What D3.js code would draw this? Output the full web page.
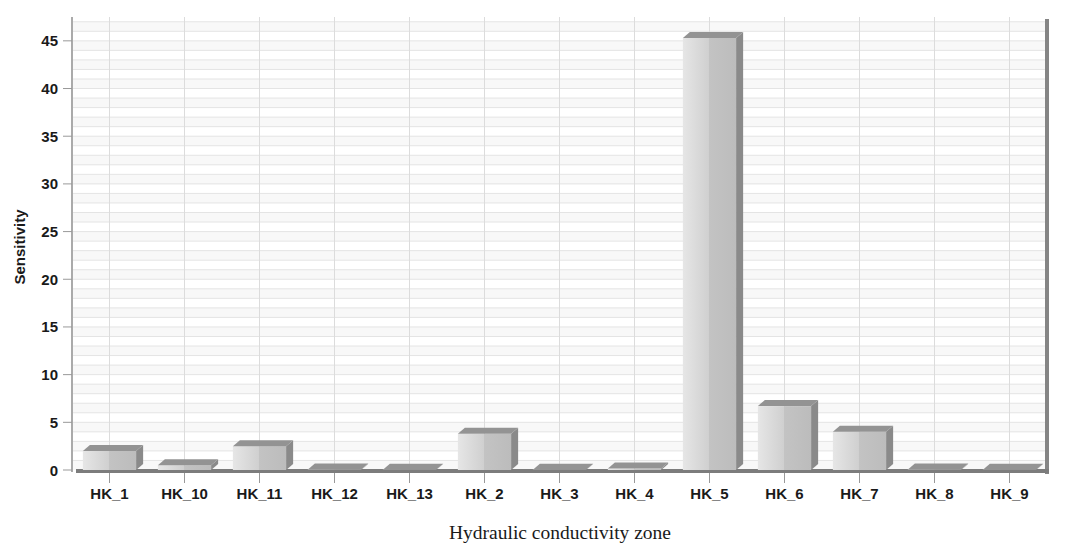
<!DOCTYPE html>
<html>
<head>
<meta charset="UTF-8">
<script src="https://d3js.org/d3.v7.min.js"></script>
<style>
    body { margin: 0; background: #fff; }
    svg { display: block; }
    .tick-lbl { font-family: Arial, "Liberation Sans", sans-serif; font-weight: bold; font-size: 15px; fill: #1a1a1a; }
</style>
</head>
<body>
<svg id="chart" width="1076" height="553"></svg>
<script>
// datos
const zonas = ["HK_1", "HK_10", "HK_11", "HK_12", "HK_13", "HK_2", "HK_3", "HK_4", "HK_5", "HK_6", "HK_7", "HK_8", "HK_9"];
const sensibilidad = [2.0, 0.5, 2.5, 0.05, 0.03, 3.8, 0.03, 0.15, 45.3, 6.7, 4.0, 0.05, 0.03];
const yTicks = [0, 5, 10, 15, 20, 25, 30, 35, 40, 45];

const svg = d3.select("#chart");
const izq = 72, der = 1047, arriba = 17, base = 470;
const dx = 7, dy = 6;

const x = d3.scaleBand().domain(zonas).range([izq, der]).paddingInner(0.29).paddingOuter(0.145);
const y = d3.scaleLinear().domain([0, 47.5]).range([base, arriba]);

// gradiente para la cara frontal
const defs = svg.append("defs");
const grad = defs.append("linearGradient").attr("id", "frente");
grad.append("stop").attr("offset", "0%").attr("stop-color", "#e6e6e6");
grad.append("stop").attr("offset", "50%").attr("stop-color", "#cfcfcf");
grad.append("stop").attr("offset", "50%").attr("stop-color", "#c3c3c3");
grad.append("stop").attr("offset", "100%").attr("stop-color", "#bcbcbc");

// bandas alternas y lineas menores cada unidad
const menores = d3.range(0, 48);
svg.append("g").selectAll("rect")
    .data(menores.filter(d => d % 2 === 0 && d < 47))
    .enter().append("rect")
    .attr("x", izq).attr("width", der - izq)
    .attr("y", d => y(d + 1)).attr("height", d => y(d) - y(d + 1))
    .attr("fill", "#f8f8f8");

svg.append("g").selectAll("line")
    .data(menores.slice(1))
    .enter().append("line")
    .attr("x1", izq).attr("x2", der)
    .attr("y1", d => y(d)).attr("y2", d => y(d))
    .attr("stroke", "#e4e4e4").attr("stroke-width", 1);

// lineas verticales de la rejilla + marcas del eje x
svg.append("g").selectAll("line")
    .data(zonas)
    .enter().append("line")
    .attr("x1", d => x(d) + x.bandwidth() / 2).attr("x2", d => x(d) + x.bandwidth() / 2)
    .attr("y1", arriba).attr("y2", base + 13)
    .attr("stroke", "#dcdcdc").attr("stroke-width", 1);

svg.append("g").selectAll("line")
    .data(zonas)
    .enter().append("line")
    .attr("x1", d => x(d) + x.bandwidth() / 2).attr("x2", d => x(d) + x.bandwidth() / 2)
    .attr("y1", base + 3).attr("y2", base + 13)
    .attr("stroke", "#999").attr("stroke-width", 1);

// eje y
svg.append("line").attr("x1", izq).attr("x2", izq).attr("y1", arriba).attr("y2", base + 2)
    .attr("stroke", "#aaa").attr("stroke-width", 2);

const yAxis = svg.append("g");
yAxis.selectAll("line").data(yTicks).enter().append("line")
    .attr("x1", izq - 9).attr("x2", izq)
    .attr("y1", d => y(d)).attr("y2", d => y(d))
    .attr("stroke", "#999");
yAxis.selectAll("text").data(yTicks).enter().append("text")
    .attr("class", "tick-lbl")
    .attr("x", izq - 14).attr("y", d => y(d) + 5.5)
    .attr("text-anchor", "end")
    .text(d => d);

// pared derecha y suelo
svg.append("rect").attr("x", der - 2).attr("y", arriba + 2).attr("width", 4).attr("height", base + 4 - arriba - 2)
    .attr("fill", "#858585");
svg.append("rect").attr("x", izq + 4).attr("y", base - 1).attr("width", der + 2 - izq - 4).attr("height", 4)
    .attr("fill", "#7c7c7c");

// barras 3D
const barras = svg.append("g").selectAll("g")
    .data(zonas.map((z, i) => ({ zona: z, valor: sensibilidad[i] })))
    .enter().append("g");

barras.append("rect")
    .attr("x", d => x(d.zona))
    .attr("y", d => y(d.valor))
    .attr("width", x.bandwidth())
    .attr("height", d => base - y(d.valor))
    .attr("fill", "url(#frente)");

barras.append("path")
    .attr("d", d => {
        const x1 = x(d.zona) + x.bandwidth(), yt = y(d.valor);
        return `M${x1},${yt} L${x1 + dx},${yt - dy} L${x1 + dx},${base - dy} L${x1},${base} Z`;
    })
    .attr("fill", "#8a8a8a");

barras.append("path")
    .attr("d", d => {
        const x0 = x(d.zona), x1 = x0 + x.bandwidth(), yt = y(d.valor);
        return `M${x0},${yt} L${x1},${yt} L${x1 + dx},${yt - dy} L${x0 + dx},${yt - dy} Z`;
    })
    .attr("fill", "#939393");

// etiquetas del eje x
svg.append("g").selectAll("text")
    .data(zonas)
    .enter().append("text")
    .attr("class", "tick-lbl")
    .attr("x", d => x(d) + x.bandwidth() / 2)
    .attr("y", 499)
    .attr("text-anchor", "middle")
    .text(d => d);

// titulos
svg.append("text")
    .attr("transform", "translate(25,247) rotate(-90)")
    .attr("text-anchor", "middle")
    .attr("font-family", "Arial, 'Liberation Sans', sans-serif")
    .attr("font-weight", "bold").attr("font-size", 15).attr("fill", "#1a1a1a")
    .text("Sensitivity");

svg.append("text")
    .attr("x", 560).attr("y", 539)
    .attr("text-anchor", "middle")
    .attr("font-family", "'Liberation Serif', 'Times New Roman', serif")
    .attr("font-size", 19.5).attr("fill", "#1a1a1a")
    .text("Hydraulic conductivity zone");
</script>
</body>
</html>
